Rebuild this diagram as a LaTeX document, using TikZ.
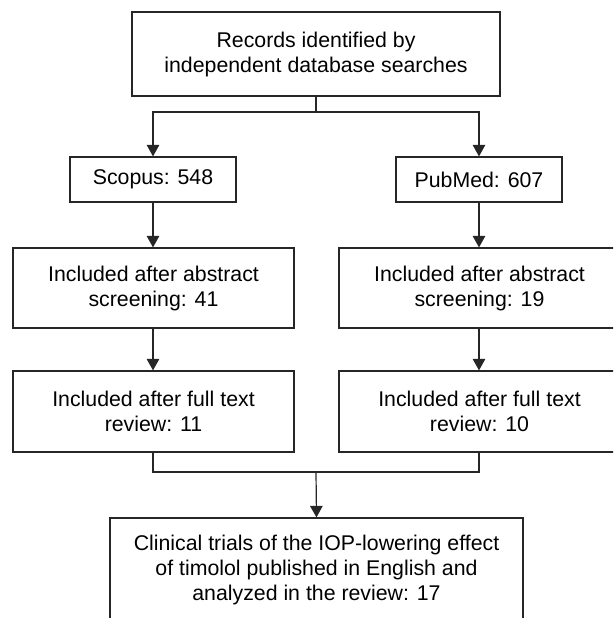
\documentclass[tikz,border=0pt]{standalone}
\usepackage{fontspec}
\setmainfont{Liberation Sans}
\usepackage{tikz}
\usetikzlibrary{arrows.meta}

\begin{document}
\begin{tikzpicture}[x=1pt, y=-1pt, line width=1.2pt,
    box/.style = {draw=black!85, align=center, inner sep=0pt,
                  font=\fontsize{21.3}{25}\selectfont},
    arr/.style = {-{Triangle[width=12.5pt,length=11.5pt]}}]
            \clip (0,0) rectangle (613,618);
            \node [box, minimum width=368, minimum height=84] (records) at (316,54)
                {Records identified by\\independent database searches};
            \node [box, minimum width=166, minimum height=45] (scopus) at (153,179.5) {Scopus: 548};
            \node [box, minimum width=166, minimum height=45] (pubmed) at (479,179.5) {PubMed: 607};
            \node [box, minimum width=281, minimum height=80] (absL) at (153.5,288)
                {Included after abstract\\screening: 41};
            \node [box, minimum width=281, minimum height=80] (absR) at (479.5,288)
                {Included after abstract\\screening: 19};
            \node [box, minimum width=281, minimum height=81] (fullL) at (153.5,411.5)
                {Included after full text\\review: 11};
            \node [box, minimum width=281, minimum height=81] (fullR) at (479.5,411.5)
                {Included after full text\\review: 10};
            \node [box, minimum width=413, minimum height=104] (final) at (316.5,570)
                {Clinical trials of the IOP-lowering effect\\of timolol published in English and\\analyzed in the review: 17};
            \coordinate (split) at (316,112);
            \coordinate (merge) at (316,472);
            \draw [black!85] (records.south) -- (split);
            \draw [black!85, arr] (split) -| (scopus.north);
            \draw [black!85, arr] (split) -| (pubmed.north);
            \draw [black!85, arr] (scopus) -- (absL.north -| scopus);
            \draw [black!85, arr] (pubmed) -- (absR.north -| pubmed);
            \draw [black!85, arr] (absL.south -| scopus) -- (fullL.north -| scopus);
            \draw [black!85, arr] (absR.south -| pubmed) -- (fullR.north -| pubmed);
            \draw [black!85] (fullL.south -| scopus) |- (merge) -| (fullR.south -| pubmed);
            \draw [black!85, arr] (merge) -- (final.north);
        \end{tikzpicture}
\end{document}
